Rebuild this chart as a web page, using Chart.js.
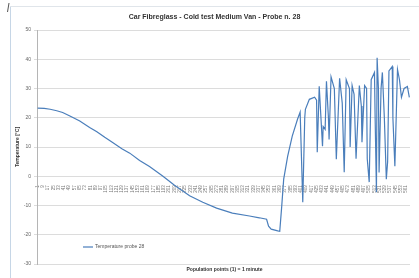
<!DOCTYPE html>
<html>
<head>
<meta charset="utf-8">
<script src="https://cdn.jsdelivr.net/npm/chart.js@4.4.1/dist/chart.umd.min.js"></script>
<style>
  html, body { margin: 0; padding: 0; background: #fff; }
  #wrap { width: 419px; height: 278px; }
</style>
</head>
<body>
<div id="wrap"><canvas id="chart"></canvas></div>
<script>
const chartTitle = 'Car Fibreglass - Cold test Medium Van - Probe n. 28';
const xTitle = 'Population points (1) = 1 minute';
const yTitle = 'Temperature [°C]';
const seriesName = 'Temperature probe 28';

// sample number (1 point = 1 minute) and temperature read at that sample
const samples = [1, 11, 20, 30, 39, 50, 65, 80, 91, 103, 115, 129, 141, 156, 171, 191,
  209, 232, 252, 273, 297, 323, 338, 349, 352, 356, 366, 369, 372, 375, 381, 388,
  396, 400, 404, 407, 408, 414, 422, 425, 426, 429, 434, 435, 438, 440, 443, 444,
  447, 452, 455, 460, 464, 467, 470, 475, 476, 479, 482, 485, 490, 493, 494, 498,
  501, 502, 505, 508, 513, 514, 516, 517, 519, 520, 523, 525, 528, 531, 533, 535,
  540, 541, 544, 548, 551, 554, 558, 563, 566];
const temps = [23.3, 23.2, 22.9, 22.4, 21.8, 20.6, 18.9, 16.7, 15.2, 13.3, 11.5, 9.4, 7.9, 5.4, 3.3, 0.1,
  -3.1, -6.7, -8.9, -10.9, -12.6, -13.6, -14.2, -14.7, -17.1, -18.1, -18.7, -18.8, -10.3, -1, 6.8, 13.7,
  19.5, 21.9, -8.9, 20, 22.9, 26.3, 27, 26, 8.2, 30.8, 10.3, 17, 16, 32.5, 20, 12.6,
  34, 30, 5.8, 33.5, 25, 1.4, 33, 30, 10, 31, 28, 6, 31, 24, 11.6, 31,
  30, 6, -2, 33, 35.5, 20, -5.5, 40.5, 30, 1.3, 30, 35.5, 20, -1, 5, 36,
  37.5, 20, 3.4, 36.5, 33, 27, 30, 30.7, 27];

const xTicks = [1, 9, 17, 25, 33, 41, 49, 57, 65, 73, 81, 89, 97, 105, 113, 121, 129, 137,
  145, 153, 161, 169, 177, 185, 193, 201, 209, 217, 225, 233, 241, 249, 257, 265, 273,
  281, 289, 297, 305, 313, 321, 329, 337, 345, 353, 361, 369, 377, 385, 393, 401, 409,
  417, 425, 433, 441, 449, 457, 465, 473, 481, 489, 497, 505, 513, 521, 529, 537, 545,
  553, 561];

const lineColor = '#4a7ebb';
const fontFamily = '"Liberation Sans", Arial, sans-serif';

// frame, title, axis title and legend drawn like the Excel sheet
const extras = {
  id: 'extras',
  beforeDraw(chart) {
    const ctx = chart.ctx;
    ctx.save();
    ctx.fillStyle = '#fff';
    ctx.fillRect(0, 0, chart.width, chart.height);
    ctx.strokeStyle = '#c6d6e6';
    ctx.lineWidth = 1;
    ctx.beginPath();
    ctx.moveTo(10.5, 6);
    ctx.lineTo(10.5, chart.height);
    ctx.stroke();
    ctx.strokeStyle = '#e0e5ea';
    ctx.beginPath();
    ctx.moveTo(10, 6.5);
    ctx.lineTo(chart.width, 6.5);
    ctx.stroke();
    ctx.strokeStyle = '#555';
    ctx.beginPath();
    ctx.moveTo(9, 3);
    ctx.lineTo(7.5, 12);
    ctx.stroke();
    ctx.restore();
  },
  afterDraw(chart) {
    const ctx = chart.ctx;
    const area = chart.chartArea;
    ctx.save();
    ctx.fillStyle = '#333';
    ctx.textAlign = 'center';
    ctx.textBaseline = 'middle';
    ctx.font = 'bold 7px ' + fontFamily;
    ctx.fillText(chartTitle, (chart.width + 10) / 2, 17);
    ctx.font = 'bold 5px ' + fontFamily;
    ctx.fillText(xTitle, (area.left + area.right) / 2 + 1, area.bottom + 6);

    // legend inside plot, bottom left
    const lx = area.left + 46;
    const ly = area.bottom - 17;
    ctx.strokeStyle = lineColor;
    ctx.lineWidth = 1.2;
    ctx.beginPath();
    ctx.moveTo(lx, ly);
    ctx.lineTo(lx + 10, ly);
    ctx.stroke();
    ctx.textAlign = 'left';
    ctx.fillStyle = '#555';
    ctx.font = '5px ' + fontFamily;
    ctx.fillText(seriesName, lx + 12, ly);
    ctx.restore();
  }
};

new Chart(document.getElementById('chart'), {
  type: 'line',
  data: {
    datasets: [{
      label: seriesName,
      data: samples.map((s, i) => ({ x: s, y: temps[i] })),
      borderColor: lineColor,
      borderWidth: 1.2,
      pointRadius: 0,
      tension: 0,
      fill: false
    }]
  },
  options: {
    responsive: true,
    maintainAspectRatio: false,
    animation: false,
    layout: { padding: { top: 30, right: 9, bottom: 14, left: 10 } },
    plugins: {
      legend: { display: false },
      title: { display: false },
      tooltip: { enabled: false }
    },
    scales: {
      x: {
        type: 'linear',
        position: { y: 0 },
        min: 0,
        max: 567,
        afterBuildTicks: (scale) => {
          scale.ticks = xTicks.map(v => ({ value: v }));
        },
        grid: { display: false },
        border: { display: false },
        ticks: {
          autoSkip: false,
          minRotation: 90,
          maxRotation: 90,
          padding: 1,
          color: '#777',
          font: { family: fontFamily, size: 4.5 },
          callback: (v) => String(v)
        }
      },
      y: {
        min: -30,
        max: 50,
        afterFit: (scale) => { scale.width = 27; },
        grid: { color: '#dcdcdc', lineWidth: 1, tickLength: 3 },
        border: { color: '#b5b5b5' },
        ticks: {
          stepSize: 10,
          padding: 3,
          color: '#666',
          font: { family: fontFamily, size: 5 }
        },
        title: {
          display: true,
          text: yTitle,
          color: '#333',
          padding: { top: 5, bottom: 0 },
          font: { family: fontFamily, size: 5, weight: 'bold' }
        }
      }
    }
  },
  plugins: [extras]
});
</script>
</body>
</html>
